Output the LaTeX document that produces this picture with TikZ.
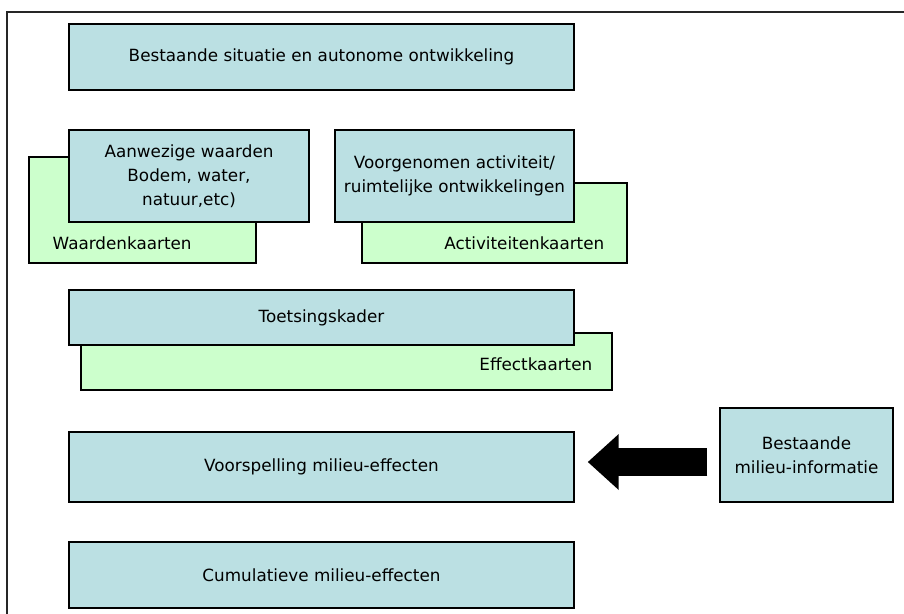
\documentclass[tikz,border=0pt]{standalone}
\usepackage{fontspec}
\setmainfont{DejaVu Sans}
\usetikzlibrary{arrows.meta}
\definecolor{boxblue}{RGB}{187,224,227}
\definecolor{mapgreen}{RGB}{204,255,204}

\begin{document}
\begin{tikzpicture}[x=0.75pt, y=-0.75pt,
    every node/.style={font=\fontsize{12.6}{18}\selectfont},
    stap/.style={draw=black, line width=1.1pt, fill=boxblue, inner sep=0pt, align=center},
    kaart/.style={draw=black, line width=1.1pt, fill=mapgreen, inner sep=0pt},
    dikpijl/.style={line width=21pt, -{Triangle[length=23.25pt, width=40.5pt]}}]
         \useasboundingbox (0,0) rectangle (904,614);
         \draw [line width=1.2pt, black!85] (7,614) -- (7,12) -- (904,12);
         % kaarten achter de stappen
         \node [kaart, minimum width=170.25pt, minimum height=79.5pt] (WK) at (142.5, 210) {};
         \node [kaart, minimum width=198.75pt, minimum height=60pt] (AK) at (494.5, 223) {};
         \node [kaart, minimum width=398.25pt, minimum height=42.75pt] (EK) at (346.5, 361.5) {};
         \node [anchor=west] (WKt) at (48, 243) {Waardenkaarten};
         \node [anchor=east] (AKt) at (609, 243) {Activiteitenkaarten};
         \node [anchor=east] (EKt) at (597, 364) {Effectkaarten};
         % stappen
         \node [stap, minimum width=378.75pt, minimum height=49.5pt] (SIT) at (321.5, 57) {Bestaande situatie en autonome ontwikkeling};
         \node [stap, minimum width=180pt, minimum height=69pt] (AW) at (189, 176) {Aanwezige waarden\\Bodem, water,\\natuur,etc)};
         \node [stap, minimum width=179.25pt, minimum height=69pt] (VA) at (454.5, 176) {Voorgenomen activiteit/\\ruimtelijke ontwikkelingen};
         \node [stap, minimum width=378.75pt, minimum height=41.25pt] (TK) at (321.5, 317.5) {Toetsingskader};
         \node [stap, minimum width=378.75pt, minimum height=52.5pt] (VM) at (321.5, 467) {Voorspelling milieu-effecten};
         \node [stap, minimum width=129.75pt, minimum height=70.5pt] (BM) at (806.5, 455) {Bestaande\\milieu-informatie};
         \node [stap, minimum width=378.75pt, minimum height=49.5pt] (CM) at (321.5, 575) {Cumulatieve milieu-effecten};
         \draw [dikpijl, shorten <=9pt, shorten >=9.75pt] (BM.west |- 0,462) -- (VM.east |- 0,462);
\end{tikzpicture}
\end{document}
